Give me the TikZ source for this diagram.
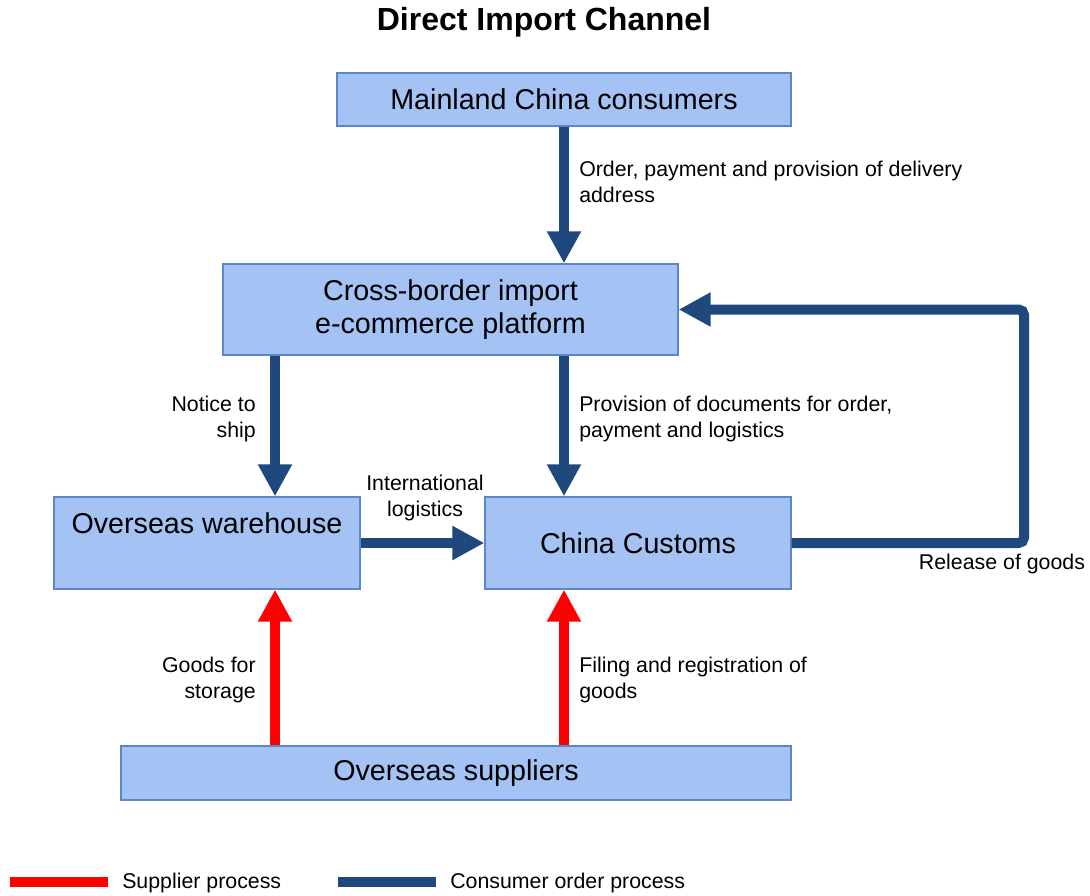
\documentclass[tikz,border=0pt]{standalone}
\usepackage{fontspec}
\setmainfont{Liberation Sans}
\usetikzlibrary{calc, arrows.meta}

\definecolor{boxfill}{HTML}{A4C2F4}
\definecolor{boxline}{HTML}{5B87C9}
\definecolor{orderblue}{HTML}{1F497D}
\definecolor{supred}{HTML}{FF0000}

\begin{document}
\begin{tikzpicture}[x=0.75pt, y=-0.75pt,
		box/.style={draw=boxline, fill=boxfill, line width=0.9pt, inner sep=0pt, align=center, font=\fontsize{21.5}{24.75}\selectfont},
		lbl/.style={font=\fontsize{16}{20}\selectfont, inner sep=0pt},
		flow/.style={line width=7.5pt, -{Triangle[length=24pt, width=24pt]}},
		order/.style={flow, draw=orderblue},
		supply/.style={flow, draw=supred}]
	\def\u{0.75pt}
	\useasboundingbox (0, 0) rectangle (1090, 896);

	\node[font=\bfseries\fontsize{24}{28}\selectfont] (title) at (544, 22) {Direct Import Channel};

	% boxes
	\node[box, minimum width={454*\u}, minimum height={53*\u}] (cons) at (564, 99.5) {Mainland China consumers};
	\node[box, minimum width={455*\u}, minimum height={91*\u}] (plat) at (450.5, 309.5) {Cross-border import\\e-commerce platform};
	\node[box, minimum width={306*\u}, minimum height={92*\u}] (wh) at (207, 543) {};
	\node[font=\fontsize{21.5}{24.75}\selectfont, inner sep=0pt] (whtext) at (207, 523) {Overseas warehouse};
	\node[box, minimum width={306*\u}, minimum height={92*\u}] (cust) at (638, 543) {China Customs};
	\node[box, minimum width={670*\u}, minimum height={54*\u}] (sup) at (456, 773) {Overseas suppliers};

	\coordinate (ship) at (275, 0);
	\coordinate (loop) at (1024, 0);

	% consumer order process
	\draw[order] (cons.south) -- (cons.south |- plat.north);
	\draw[order] (plat.south -| ship) -- (wh.north -| ship);
	\draw[order] (plat.south -| cons) -- (cust.north -| cons);
	\draw[order] (wh.east) -- (cust.west);
	\draw[order, rounded corners=4] (cust.east) -| (loop |- plat.east) -- (plat.east);

	% supplier process
	\draw[supply] (sup.north -| ship) -- (wh.south -| ship);
	\draw[supply] (sup.north -| cons) -- (cust.south -| cons);

	% labels
	\node[lbl, anchor=west, align=left] (ordlbl) at (579, 182) {Order, payment and provision of delivery\\address};
	\node[lbl, anchor=east, align=right] (shiplbl) at (256, 419) {Notice to\\ship};
	\node[lbl, anchor=west, align=left] (doclbl) at (579, 419) {Provision of documents for order,\\payment and logistics};
	\node[lbl, align=center] (intlbl) at (425, 498) {International\\logistics};
	\node[lbl] (rellbl) at (1002, 564) {Release of goods};
	\node[lbl, anchor=east, align=right] (storlbl) at (256, 680) {Goods for\\storage};
	\node[lbl, anchor=west, align=left] (filelbl) at (579, 680) {Filing and registration of\\goods};

	% legend
	\coordinate (sl1) at (10, 882);
	\coordinate (sl2) at (108, 882);
	\coordinate (ol1) at (338, 882);
	\coordinate (ol2) at (436, 882);
	\draw[supred, line width=8pt] (sl1) -- (sl2);
	\draw[orderblue, line width=8pt] (ol1) -- (ol2);
	\node[lbl, anchor=west] (suplegend) at (122, 883) {Supplier process};
	\node[lbl, anchor=west] (ordlegend) at (450, 883) {Consumer order process};
\end{tikzpicture}
\end{document}
